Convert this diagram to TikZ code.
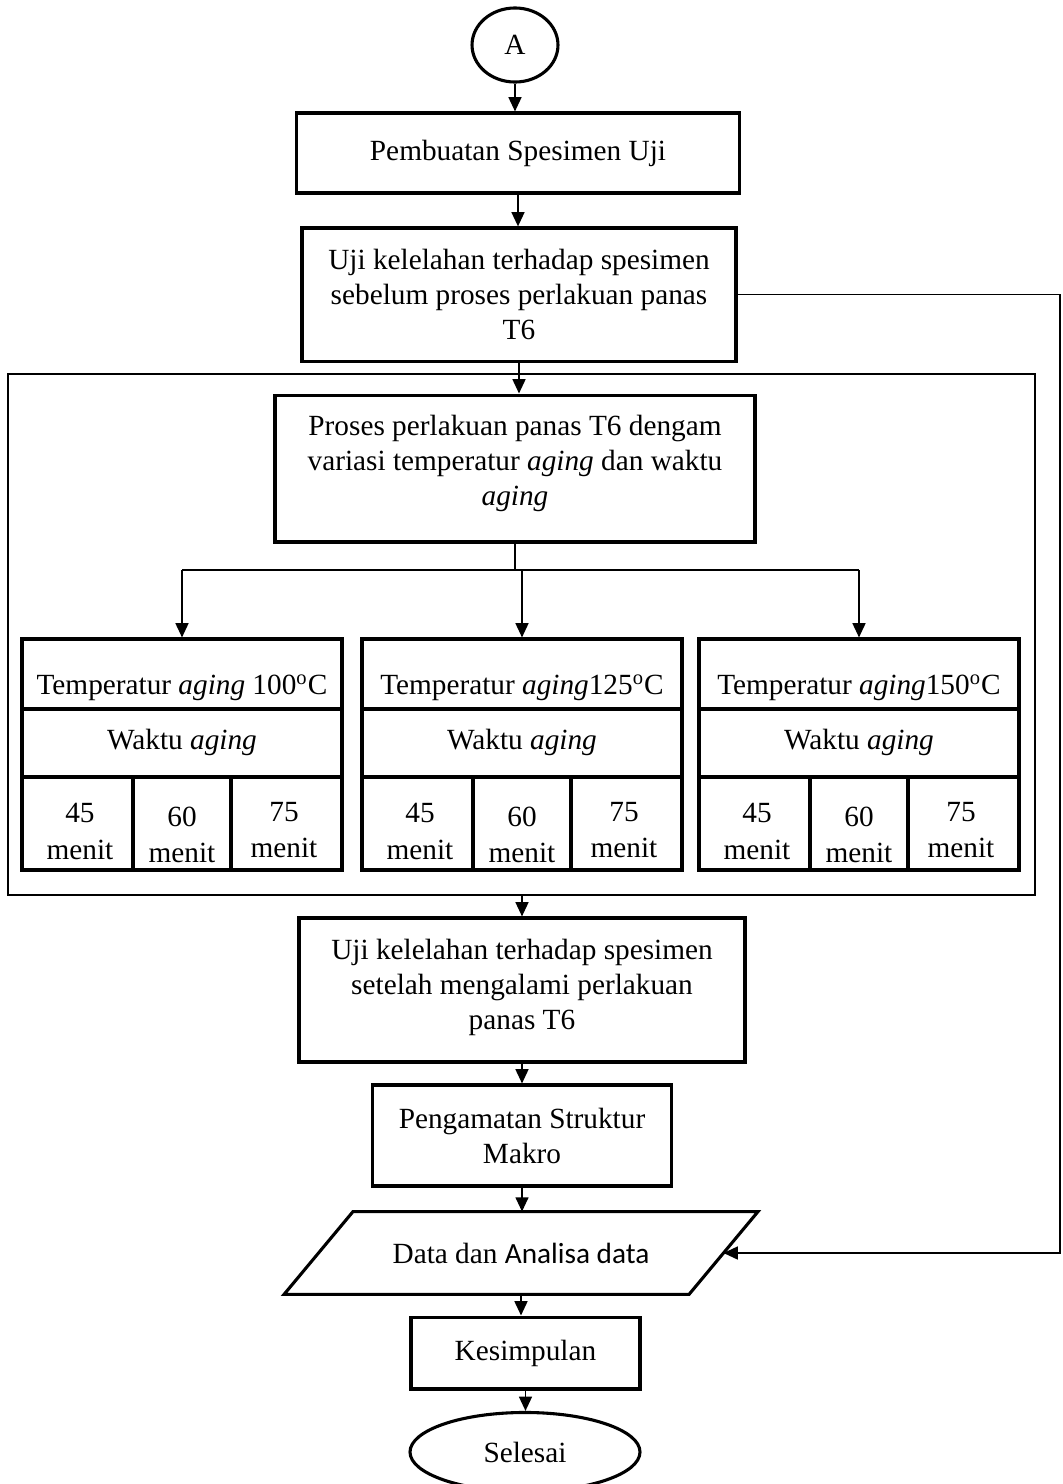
\documentclass[tikz,border=0pt]{standalone}
\usepackage{fontspec}
\setmainfont{Liberation Serif}
\newfontfamily\calibri{Carlito}
\usetikzlibrary{arrows.meta,shapes.geometric,calc}
\begin{document}
\begin{tikzpicture}[x=0.42pt,y=-0.42pt,font=\fontsize{12.3}{14.7}\selectfont,
  kotak/.style={draw,line width=1.3pt,align=center,inner sep=0pt},
  oval/.style={draw,ellipse,line width=1.3pt,inner sep=0pt},
  tabel/.style={draw,line width=1.3pt,minimum width=134.4pt,minimum height=97pt,inner sep=0pt},
  sel/.style={align=center,font=\fontsize{12.3}{15.3}\selectfont},
  garis/.style={line width=0.8pt},
  panah/.style={garis,-{Triangle[length=6pt,width=5.4pt]}}]
\useasboundingbox (0,0) rectangle (1063,1484);
\node[oval,minimum width=36.1pt,minimum height=31.1pt] (a) at (515,45) {A};
\node[kotak,minimum width=186.1pt,minimum height=33.6pt] (b1) at (518,153) {Pembuatan Spesimen Uji};
\node[kotak,minimum width=182.3pt,minimum height=55.9pt] (b2) at (519,294.5) {Uji kelelahan terhadap spesimen\\sebelum proses perlakuan panas\\T6};
\node[draw,line width=0.9pt,minimum width=431.3pt,minimum height=218.8pt] (bingkai) at (521.5,634.5) {};
\node[kotak,minimum width=201.6pt,minimum height=61.7pt] (b3) at (515,468.5) {Proses perlakuan panas T6 dengam\\variasi temperatur \textit{aging} dan waktu\\\textit{aging}\\[-7.9pt]};
\coordinate (cabang) at (518,570);
\foreach \nm/\cx/\suhu in {t1/182/{\ 100},t2/522/125,t3/859/150}{
  \node[tabel] (\nm) at (\cx,754.5) {};
  \draw[line width=1.3pt] (\cx-160,709) -- (\cx+160,709) (\cx-160,777) -- (\cx+160,777) (\cx-49,777) -- (\cx-49,870) (\cx+49,777) -- (\cx+49,870);
  \node (\nm-suhu) at (\cx,688) {Temperatur \textit{aging}\suhu\textsuperscript{o}C};
  \node (\nm-waktu) at (\cx,742) {Waktu \textit{aging}};
  \node[sel] (\nm-45) at (\cx-102,831.5) {45\\menit};
  \node[sel] (\nm-60) at (\cx,835) {60\\menit};
  \node[sel] (\nm-75) at (\cx+102,830) {75\\menit};
  \draw[panah] (\nm.north |- cabang) -- (\nm.north);
}
\node[kotak,minimum width=187.3pt,minimum height=60.5pt] (b4) at (522,990) {Uji kelelahan terhadap spesimen\\setelah mengalami perlakuan\\panas T6\\[-9.7pt]};
\node[kotak,minimum width=125.6pt,minimum height=42.4pt] (b5) at (522,1135.5) {Pengamatan Struktur\\Makro};
\node[minimum width=169.7pt,minimum height=34.4pt,inner sep=0pt] (p) at (521,1253) {Data dan {\calibri Analisa data}};
\draw[line width=1.3pt] ($(p.north west)+(34.5,0)$) -- ($(p.north east)+(34.5,0)$) -- ($(p.south east)+(-34.5,0)$) -- ($(p.south west)+(-34.5,0)$) -- cycle;
\node[kotak,minimum width=96.2pt,minimum height=30.2pt] (b6) at (525.5,1353) {Kesimpulan};
\node[oval,minimum width=96.6pt,minimum height=33.2pt] (selesai) at (525,1452) {Selesai};
\coordinate (kanan) at (1060,0);
\draw[panah] (a.south) -- (a.south |- b1.north);
\draw[panah] (b1.south) -- (b1.south |- b2.north);
\draw[panah] (b2.south) -- (b2.south |- b3.north);
\draw[garis] (b3.south) -- (b3.south |- cabang);
\draw[garis] (t1.north |- cabang) -- (t3.north |- cabang);
\draw[panah] (b4.north |- bingkai.south) -- (b4.north);
\draw[panah] (b4.south) -- (b4.south |- b5.north);
\draw[panah] (b5.south) -- (b5.south |- p.north);
\draw[panah] (p.south) -- (p.south |- b6.north);
\draw[panah] (b6.south) -- (b6.south |- selesai.north);
\draw[panah] (b2.east) -- (b2.east -| kanan) -- (kanan |- p.east) -- (p.east);
\end{tikzpicture}
\end{document}
